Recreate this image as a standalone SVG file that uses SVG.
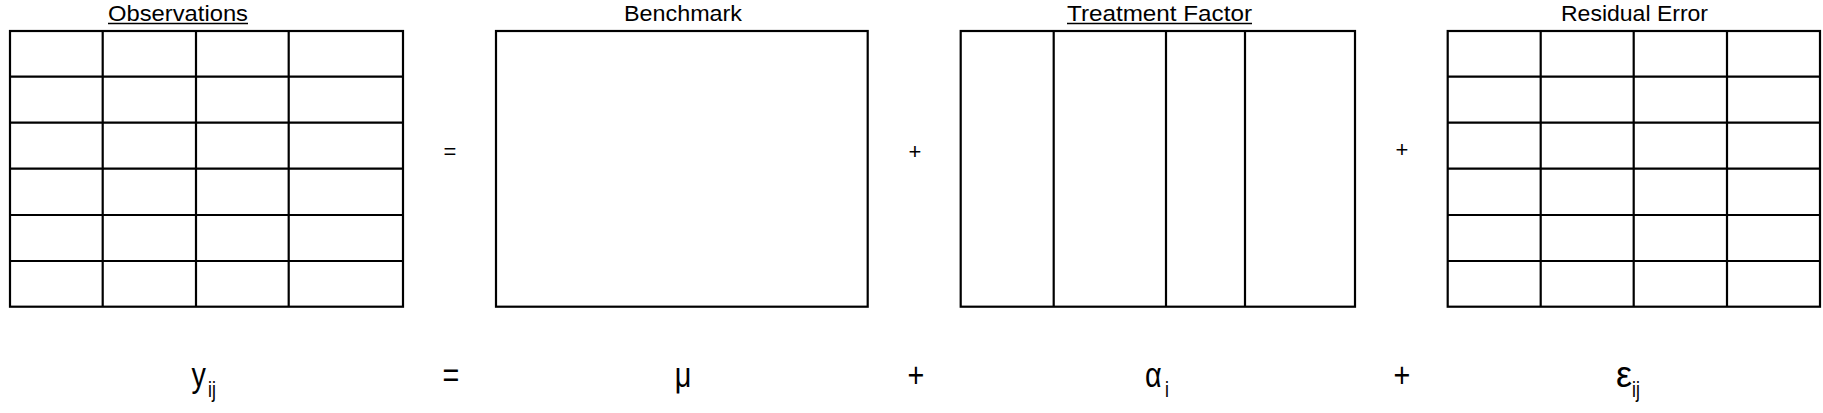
<svg xmlns="http://www.w3.org/2000/svg" width="1823" height="413" viewBox="0 0 1823 413">
<style>
.box{fill:#fff;stroke:#000;stroke-width:2.2}
.ln{stroke:#000;stroke-width:2.2;fill:none}
.ttl{font-family:"Liberation Sans",Arial,sans-serif;font-size:22px;fill:#000}
.ul{stroke:#000;stroke-width:1.4}
.op{font-family:"Liberation Sans",Arial,sans-serif;font-size:22px;fill:#000;text-anchor:middle}
.fm{font-family:"Liberation Sans",Arial,sans-serif;font-size:36px;fill:#000}
.sb{font-family:"Liberation Sans",Arial,sans-serif;font-size:22px;fill:#000}
</style>
<rect width="1823" height="413" fill="#fff"/>
<g id="observations">
  <text class="ttl" x="108" y="21" textLength="140" lengthAdjust="spacingAndGlyphs">Observations</text>
  <line class="ul" x1="108" y1="23.5" x2="248" y2="23.5"/>
  <rect class="box" x="10" y="31" width="393" height="275.7"/>
  <path class="ln" d="M102.7 31V306.7M196 31V306.7M288.7 31V306.7M10 76.7H403M10 122.7H403M10 168.7H403M10 215H403M10 261H403"/>
</g>
<g id="benchmark">
  <text class="ttl" x="624" y="21" textLength="118" lengthAdjust="spacingAndGlyphs">Benchmark</text>
  <rect class="box" x="496" y="31" width="371.7" height="275.7"/>
</g>
<g id="treatment">
  <text class="ttl" x="1067" y="21" textLength="185" lengthAdjust="spacingAndGlyphs">Treatment Factor</text>
  <line class="ul" x1="1067" y1="23.5" x2="1252" y2="23.5"/>
  <rect class="box" x="960.7" y="31" width="394.3" height="275.7"/>
  <path class="ln" d="M1053.7 31V306.7M1166 31V306.7M1245 31V306.7"/>
</g>
<g id="residual">
  <text class="ttl" x="1561" y="21" textLength="147" lengthAdjust="spacingAndGlyphs">Residual Error</text>
  <rect class="box" x="1447.7" y="31" width="372.3" height="275.7"/>
  <path class="ln" d="M1540.7 31V306.7M1633.7 31V306.7M1727 31V306.7M1447.7 76.7H1820M1447.7 122.7H1820M1447.7 168.7H1820M1447.7 215H1820M1447.7 261H1820"/>
</g>
<g id="operators">
  <text class="op" x="450" y="158.5">=</text>
  <text class="op" x="915" y="158.5">+</text>
  <text class="op" x="1402" y="157">+</text>
</g>
<g id="formula">
  <g transform="translate(191.5,386.7) scale(0.8,1)"><text class="fm" x="0" y="0">y</text></g>
  <g transform="translate(208,397) scale(0.8,1)"><text class="sb" x="0" y="0">ij</text></g>
  <g transform="translate(451,386.7) scale(0.8,1)"><text class="fm" x="0" y="0" text-anchor="middle">=</text></g>
  <g transform="translate(683,386.7) scale(0.8,1)"><text class="fm" x="0" y="0" text-anchor="middle">μ</text></g>
  <g transform="translate(916,386.7) scale(0.8,1)"><text class="fm" x="0" y="0" text-anchor="middle">+</text></g>
  <g transform="translate(1145,386.7) scale(0.8,1)"><text class="fm" x="0" y="0">α</text></g>
  <g transform="translate(1165,397) scale(0.8,1)"><text class="sb" x="0" y="0">i</text></g>
  <g transform="translate(1402,386.7) scale(0.8,1)"><text class="fm" x="0" y="0" text-anchor="middle">+</text></g>
  <g transform="translate(1616,386.7)"><text class="fm" x="0" y="0">ε</text></g>
  <g transform="translate(1632,397) scale(0.8,1)"><text class="sb" x="0" y="0">ij</text></g>
</g>
</svg>
